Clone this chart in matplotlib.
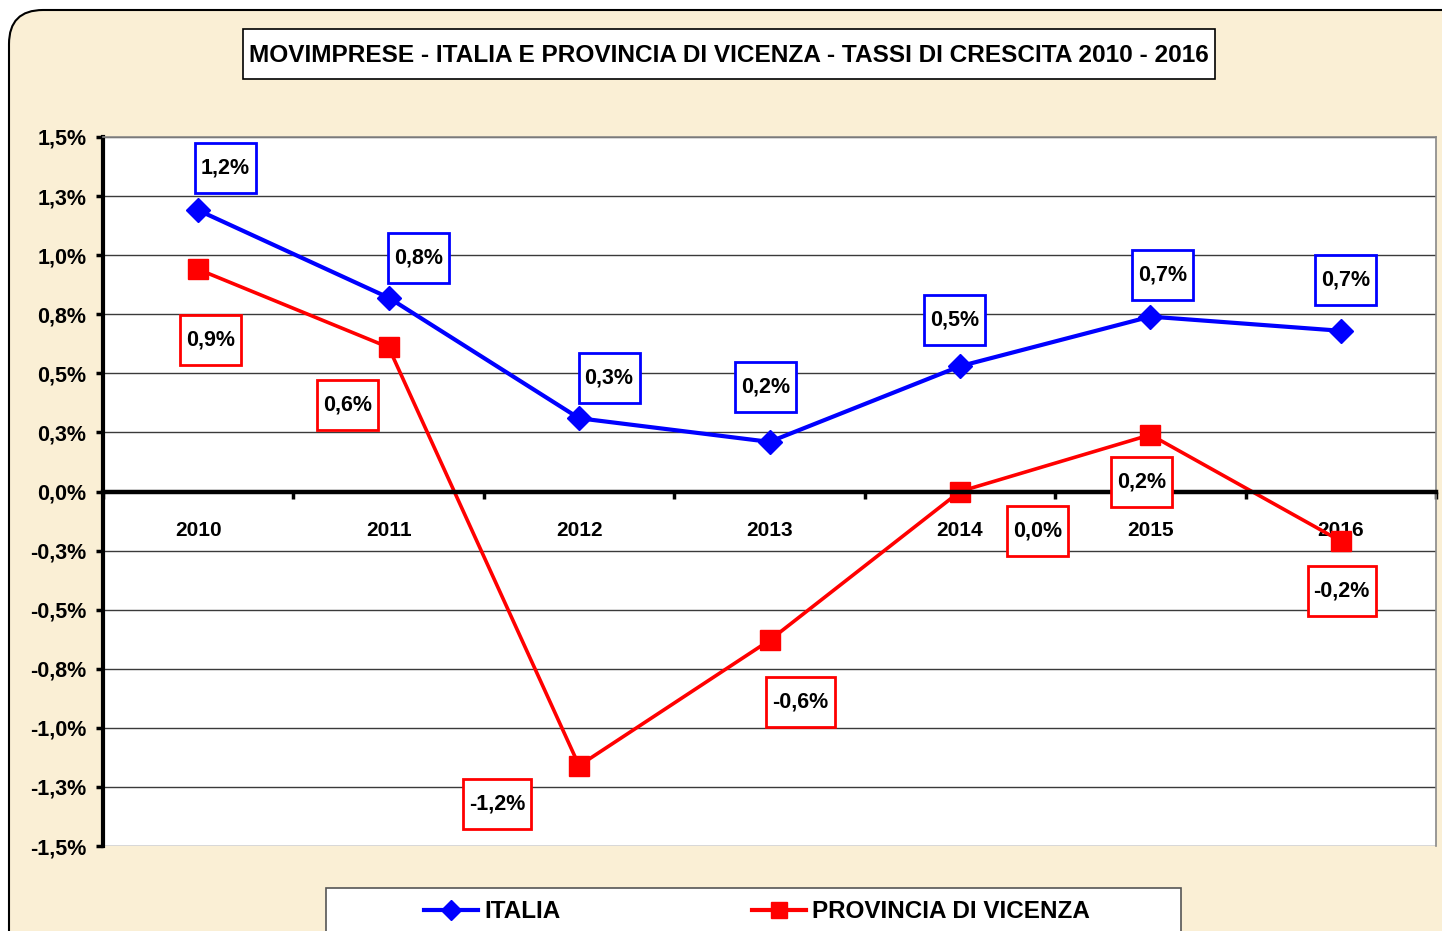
import matplotlib
matplotlib.use('Agg')
import matplotlib.pyplot as plt
import matplotlib.transforms as mtransforms
from matplotlib.patches import Rectangle, FancyBboxPatch
from matplotlib.lines import Line2D

# data (growth rates, %)
years = ['2010', '2011', '2012', '2013', '2014', '2015', '2016']
italia = [1.19, 0.82, 0.31, 0.21, 0.53, 0.74, 0.68]
vicenza = [0.94, 0.61, -1.16, -0.63, 0.0, 0.24, -0.21]

y_ticks = [-1.5, -1.25, -1.0, -0.75, -0.5, -0.25, 0.0, 0.25, 0.5, 0.75, 1.0, 1.25, 1.5]
y_tick_labels = ['-1,5%', '-1,3%', '-1,0%', '-0,8%', '-0,5%', '-0,3%', '0,0%',
                 '0,3%', '0,5%', '0,8%', '1,0%', '1,3%', '1,5%']

title = 'MOVIMPRESE - ITALIA E PROVINCIA DI VICENZA - TASSI DI CRESCITA 2010 - 2016'

# label offsets in pixels (dx right, dy down) from each point
italia_off = [(27, -42), (30, -40), (30, -40), (-4, -55), (-5, -46), (12, -42), (5, -51)]
vicenza_off = [(12, 71), (-41, 58), (-82, 38), (31, 62), (78, 39), (-9, 47), (1, 50)]

W, H = 1442, 931
BG = '#FAEFD5'
FONT = 'Liberation Sans'

fig = plt.figure(figsize=(W / 100, H / 100), dpi=100)
fig.patch.set_facecolor('white')
pix = mtransforms.IdentityTransform()

# rounded parchment frame
frame = FancyBboxPatch((9, -60), 1500, H - 10 + 60, boxstyle='round,pad=0,rounding_size=34',
                       transform=pix, facecolor=BG, edgecolor='black', lw=1.5, zorder=-10)
fig.patches.append(frame)

ax = fig.add_axes([103 / W, (H - 846) / H, (1436 - 103) / W, (846 - 137) / H])
ax.set_facecolor('white')
ax.spines['bottom'].set_position(('data', 0))
x = list(range(len(years)))

ax.plot(x, italia, color='#0000FF', lw=3, marker='D', ms=12, zorder=2.2)
ax.plot(x, vicenza, color='#FF0000', lw=2.6, marker='s', ms=15, zorder=2.2)

ax.set_xlim(-0.5, 6.5)
ax.set_ylim(-1.5, 1.5)
ax.set_yticks(y_ticks)
ax.set_yticklabels(y_tick_labels)
ax.set_xticks(x)
ax.set_xticklabels(years)
ax.set_xticks([i - 0.5 for i in range(len(years) + 1)], minor=True)
ax.tick_params(axis='x', which='major', length=0, pad=21, labelsize=15)
ax.tick_params(axis='x', which='minor', length=5, width=2.5, direction='out')
ax.tick_params(axis='y', length=5, width=2.5, direction='out', pad=7, labelsize=15.5)
for lab in ax.get_xticklabels() + ax.get_yticklabels():
    lab.set_fontweight('bold')
    lab.set_family(FONT)
ax.yaxis.grid(True, color='#3a3a3a', lw=1)
ax.set_axisbelow(True)

ax.spines['bottom'].set_linewidth(3.2)
ax.spines['left'].set_linewidth(3)
for s in ['top', 'right']:
    ax.spines[s].set_color('#888888')
    ax.spines[s].set_linewidth(1.2)

fig.canvas.draw()
renderer = fig.canvas.get_renderer()


def boxed_label(xp, yp, txt, color, w_pad=12, h=50):
    t = fig.text(xp, yp, txt, transform=pix, ha='center', va='center', fontsize=15.5,
                 fontweight='bold', family=FONT, zorder=6)
    ext = t.get_window_extent(renderer)
    w = ext.width + w_pad
    fig.patches.append(Rectangle((xp - w / 2, yp - h / 2), w, h, transform=pix,
                                 facecolor='white', edgecolor=color, lw=2, zorder=5))


for vals, offs, col in [(italia, italia_off, '#0000FF'), (vicenza, vicenza_off, '#FF0000')]:
    for i, v in enumerate(vals):
        px, py = ax.transData.transform((i, v))
        boxed_label(px + offs[i][0], py - offs[i][1], f'{v:.1f}%'.replace('.', ','), col)

# title box
tt = fig.text(729, H - 55, title, transform=pix, ha='center', va='center', fontsize=17.6,
              fontweight='bold', family=FONT, zorder=6)
ext = tt.get_window_extent(renderer)
fig.patches.append(Rectangle((729 - (ext.width + 12) / 2, H - 79), ext.width + 12, 50,
                             transform=pix, facecolor='white', edgecolor='black', lw=1.2, zorder=5))

# legend
fig.patches.append(Rectangle((326, -5), 855, H - 888 + 5, transform=pix, facecolor='white',
                             edgecolor='#555555', lw=1.2, zorder=4))
handles = [Line2D([], [], color='#0000FF', lw=3, marker='D', ms=10),
           Line2D([], [], color='#FF0000', lw=3, marker='s', ms=12)]
leg = fig.legend(handles, ['ITALIA', 'PROVINCIA DI VICENZA'], loc='center',
                 bbox_to_anchor=(757 / W, (H - 912) / H), ncol=2, frameon=False,
                 handlelength=2.2, handletextpad=0.25, columnspacing=7.9,
                 prop={'family': FONT, 'weight': 'bold', 'size': 17.5})
leg.set_zorder(6)

fig.savefig('out.png', dpi=100, facecolor=fig.get_facecolor())
